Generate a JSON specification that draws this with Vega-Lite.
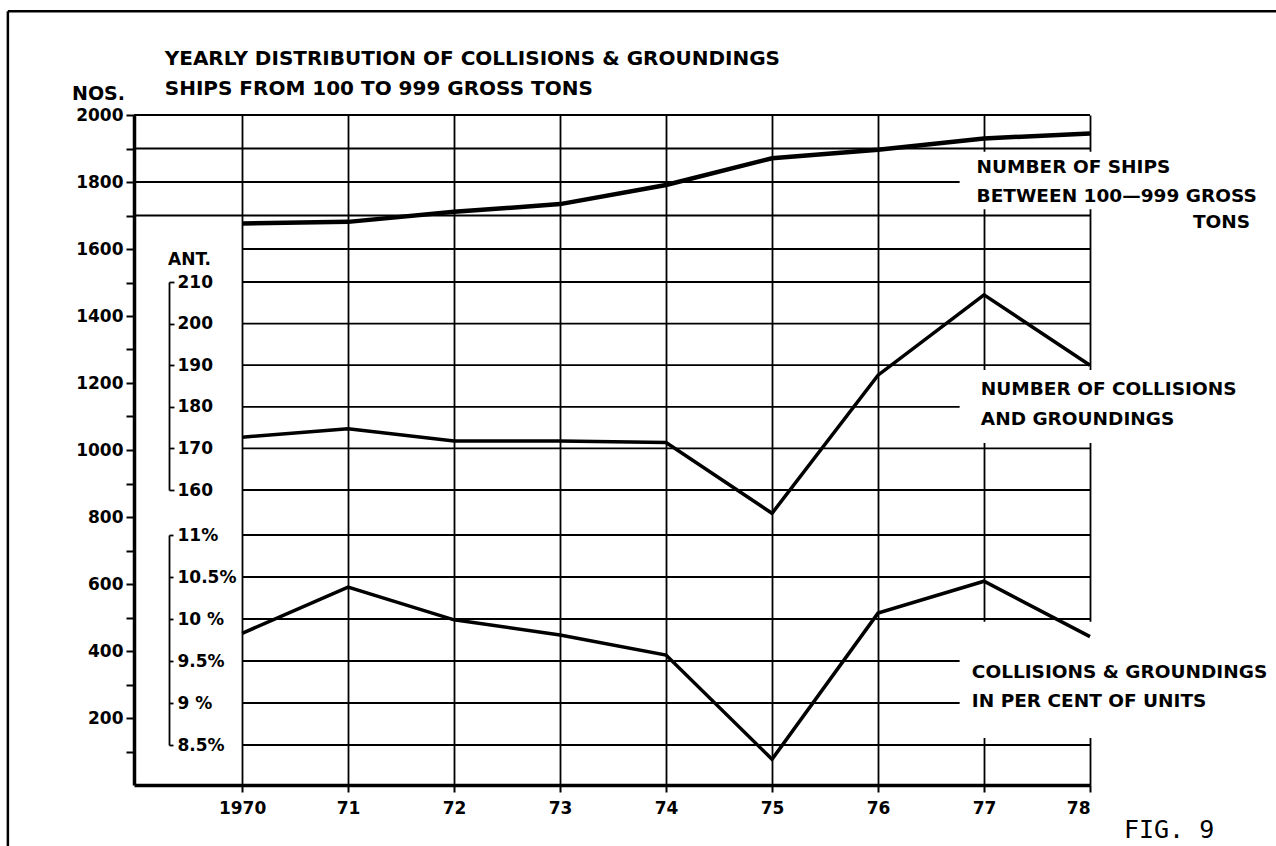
{
  "$schema": "https://vega.github.io/schema/vega-lite/v6.json",
  "width": 956,
  "height": 670,
  "autosize": {"type": "none"},
  "padding": {"left": 134, "top": 115, "right": 186, "bottom": 61},
  "background": "white",
  "config": {
    "view": {"stroke": null},
    "font": "DejaVu Sans",
    "axis": {"domainColor": "#000", "tickColor": "#000", "labelColor": "#000", "titleColor": "#000", "gridColor": "#000"}
  },
  "datasets": {
    "series": [
      {"year": 1970, "ships": 1676, "collisions": 172.7, "pct": 9.83},
      {"year": 1971, "ships": 1681, "collisions": 174.7, "pct": 10.38},
      {"year": 1972, "ships": 1711, "collisions": 171.8, "pct": 9.99},
      {"year": 1973, "ships": 1734, "collisions": 171.8, "pct": 9.81},
      {"year": 1974, "ships": 1791, "collisions": 171.4, "pct": 9.57},
      {"year": 1975, "ships": 1871, "collisions": 154.4, "pct": 8.33},
      {"year": 1976, "ships": 1896, "collisions": 187.6, "pct": 10.07},
      {"year": 1977, "ships": 1930, "collisions": 206.9, "pct": 10.45},
      {"year": 1978, "ships": 1945, "collisions": 190.0, "pct": 9.79}
    ],
    "nosGrid": [{"nos": 1600}, {"nos": 1700}, {"nos": 1800}, {"nos": 1900}, {"nos": 2000}],
    "antGrid": [{"ant": 160}, {"ant": 170}, {"ant": 180}, {"ant": 190}, {"ant": 200}, {"ant": 210}],
    "pctGrid": [{"pct": 8.5}, {"pct": 9}, {"pct": 9.5}, {"pct": 10}, {"pct": 10.5}, {"pct": 11}],
    "one": [{}]
  },
  "resolve": {"scale": {"x": "independent", "y": "independent"}, "axis": {"x": "independent", "y": "independent"}},
  "layer": [
    {
      "data": {"name": "nosGrid"},
      "transform": [{"filter": "datum.nos >= 1700"}],
      "mark": {"type": "rule", "color": "#000", "strokeWidth": 1.8},
      "encoding": {
        "x": {"datum": 1968.98, "type": "quantitative", "axis": null, "scale": {"domain": [1968.98, 1978], "nice": false, "zero": false}},
        "x2": {"datum": 1978},
        "y": {"field": "nos", "type": "quantitative", "axis": null, "scale": {"domain": [0, 2000], "nice": false, "zero": false}}
      }
    },
    {
      "data": {"name": "nosGrid"},
      "transform": [{"filter": "datum.nos < 1700"}],
      "mark": {"type": "rule", "color": "#000", "strokeWidth": 1.8},
      "encoding": {
        "x": {"datum": 1970, "type": "quantitative", "axis": null, "scale": {"domain": [1968.98, 1978], "nice": false, "zero": false}},
        "x2": {"datum": 1978},
        "y": {"field": "nos", "type": "quantitative", "axis": null, "scale": {"domain": [0, 2000], "nice": false, "zero": false}}
      }
    },
    {
      "data": {"name": "antGrid"},
      "mark": {"type": "rule", "color": "#000", "strokeWidth": 1.8},
      "encoding": {
        "x": {"datum": 1970, "type": "quantitative", "axis": null, "scale": {"domain": [1968.98, 1978], "nice": false, "zero": false}},
        "x2": {"datum": 1978},
        "y": {
          "field": "ant", "type": "quantitative",
          "scale": {"domain": [160, 210], "range": [375, 167], "nice": false, "zero": false},
          "axis": {
            "orient": "right", "offset": -921,
            "values": [160, 170, 180, 190, 200, 210],
            "tickSize": 5, "tickWidth": 1.8, "domainWidth": 1.8,
            "labelPadding": 3, "labelFontSize": 17, "labelFontWeight": "bold", "labelBaseline": "middle",
            "grid": false,
            "title": "ANT.", "titleAngle": 0, "titleAlign": "center", "titleBaseline": "middle",
            "titleX": 20, "titleY": 144, "titleFontSize": 17, "titleFontWeight": "bold"
          }
        }
      }
    },
    {
      "data": {"name": "pctGrid"},
      "mark": {"type": "rule", "color": "#000", "strokeWidth": 1.8},
      "encoding": {
        "x": {"datum": 1970, "type": "quantitative", "axis": null, "scale": {"domain": [1968.98, 1978], "nice": false, "zero": false}},
        "x2": {"datum": 1978},
        "y": {
          "field": "pct", "type": "quantitative",
          "scale": {"domain": [8.5, 11], "range": [630, 420], "nice": false, "zero": false},
          "axis": {
            "orient": "right", "offset": -921,
            "values": [8.5, 9, 9.5, 10, 10.5, 11],
            "labelExpr": "(datum.value == 9 || datum.value == 10) ? datum.value + ' %' : datum.value + '%'",
            "tickSize": 4, "tickWidth": 1.8, "domainWidth": 1.8,
            "labelPadding": 4, "labelFontSize": 17, "labelFontWeight": "bold", "labelBaseline": "middle",
            "grid": false, "title": null
          }
        }
      }
    },
    {
      "data": {"name": "one"},
      "mark": {"type": "rect", "fill": "white"},
      "encoding": {
        "x": {"datum": 1976.77, "type": "quantitative", "axis": null, "scale": {"domain": [1968.98, 1978], "nice": false, "zero": false}},
        "x2": {"datum": 1978.6},
        "y": {"datum": 1890, "type": "quantitative", "axis": null, "scale": {"domain": [0, 2000], "nice": false, "zero": false}},
        "y2": {"datum": 1719}
      }
    },
    {
      "data": {"name": "one"},
      "mark": {"type": "rect", "fill": "white"},
      "encoding": {
        "x": {"datum": 1976.77, "type": "quantitative", "axis": null, "scale": {"domain": [1968.98, 1978], "nice": false, "zero": false}},
        "x2": {"datum": 1978.6},
        "y": {"datum": 1239, "type": "quantitative", "axis": null, "scale": {"domain": [0, 2000], "nice": false, "zero": false}},
        "y2": {"datum": 1021}
      }
    },
    {
      "data": {"name": "one"},
      "mark": {"type": "rect", "fill": "white"},
      "encoding": {
        "x": {"datum": 1976.77, "type": "quantitative", "axis": null, "scale": {"domain": [1968.98, 1978], "nice": false, "zero": false}},
        "x2": {"datum": 1978.6},
        "y": {"datum": 487, "type": "quantitative", "axis": null, "scale": {"domain": [0, 2000], "nice": false, "zero": false}},
        "y2": {"datum": 140}
      }
    },
    {
      "data": {"name": "series"},
      "mark": {"type": "line", "color": "#000", "strokeWidth": 4.5},
      "encoding": {
        "x": {
          "field": "year", "type": "quantitative",
          "scale": {"domain": [1968.98, 1978], "nice": false, "zero": false},
          "axis": {
            "orient": "bottom",
            "values": [1970, 1971, 1972, 1973, 1974, 1975, 1976, 1977, 1978],
            "labelExpr": "datum.value == 1970 ? '1970' : format(datum.value - 1900, 'd')",
            "tickSize": 7, "tickWidth": 2, "domainWidth": 3.5,
            "labelPadding": 8, "labelFontSize": 17, "labelFontWeight": "bold",
            "grid": true, "gridWidth": 1.8, "gridColor": "#000", "title": null
          }
        },
        "y": {
          "field": "ships", "type": "quantitative",
          "scale": {"domain": [0, 2000], "nice": false, "zero": false},
          "axis": {
            "orient": "left",
            "values": [100, 200, 300, 400, 500, 600, 700, 800, 900, 1000, 1100, 1200, 1300, 1400, 1500, 1600, 1700, 1800, 1900, 2000],
            "labelExpr": "datum.value % 200 == 0 ? format(datum.value, 'd') : ''",
            "tickSize": 8, "tickWidth": 2, "domainWidth": 3.5,
            "labelPadding": 3, "labelFontSize": 17, "labelFontWeight": "bold", "labelBaseline": "middle",
            "grid": false,
            "title": "NOS.", "titleAngle": 0, "titleAlign": "center", "titleBaseline": "middle",
            "titleX": -36, "titleY": -22, "titleFontSize": 19, "titleFontWeight": "bold"
          }
        }
      }
    },
    {
      "data": {"name": "series"},
      "mark": {"type": "line", "color": "#000", "strokeWidth": 3.5},
      "encoding": {
        "x": {"field": "year", "type": "quantitative", "axis": null, "scale": {"domain": [1968.98, 1978], "nice": false, "zero": false}},
        "y": {"field": "collisions", "type": "quantitative", "axis": null, "scale": {"domain": [160, 210], "range": [375, 167], "nice": false, "zero": false}}
      }
    },
    {
      "data": {"name": "series"},
      "mark": {"type": "line", "color": "#000", "strokeWidth": 3.5},
      "encoding": {
        "x": {"field": "year", "type": "quantitative", "axis": null, "scale": {"domain": [1968.98, 1978], "nice": false, "zero": false}},
        "y": {"field": "pct", "type": "quantitative", "axis": null, "scale": {"domain": [8.5, 11], "range": [630, 420], "nice": false, "zero": false}}
      }
    },
    {
      "data": {"name": "one"},
      "mark": {"type": "rule", "color": "#000", "strokeWidth": 2.5},
      "encoding": {
        "x": {"datum": 1967.79, "type": "quantitative", "axis": null, "scale": {"domain": [1968.98, 1978], "nice": false, "zero": false}},
        "x2": {"datum": 1980},
        "y": {"datum": 2310, "type": "quantitative", "axis": null, "scale": {"domain": [0, 2000], "nice": false, "zero": false}}
      }
    },
    {
      "data": {"name": "one"},
      "mark": {"type": "rule", "color": "#000", "strokeWidth": 2.5},
      "encoding": {
        "x": {"datum": 1967.79, "type": "quantitative", "axis": null, "scale": {"domain": [1968.98, 1978], "nice": false, "zero": false}},
        "y": {"datum": 2310, "type": "quantitative", "axis": null, "scale": {"domain": [0, 2000], "nice": false, "zero": false}},
        "y2": {"datum": -200}
      }
    },
    {
      "data": {"name": "one"},
      "mark": {"type": "text", "align": "left", "baseline": "alphabetic", "font": "DejaVu Sans", "fontSize": 20, "fontWeight": "bold", "lineHeight": 30, "color": "#000"},
      "encoding": {
        "x": {"datum": 1969.27, "type": "quantitative", "axis": null, "scale": {"domain": [1968.98, 1978], "nice": false, "zero": false}},
        "y": {"datum": 2149, "type": "quantitative", "axis": null, "scale": {"domain": [0, 2000], "nice": false, "zero": false}},
        "text": {"value": ["YEARLY DISTRIBUTION OF COLLISIONS & GROUNDINGS", "SHIPS FROM 100 TO 999 GROSS TONS"]}
      }
    },
    {
      "data": {"name": "one"},
      "mark": {"type": "text", "align": "left", "baseline": "alphabetic", "font": "DejaVu Sans", "fontSize": 18.5, "fontWeight": "bold", "lineHeight": 29, "color": "#000"},
      "encoding": {
        "x": {"datum": 1976.93, "type": "quantitative", "axis": null, "scale": {"domain": [1968.98, 1978], "nice": false, "zero": false}},
        "y": {"datum": 1827, "type": "quantitative", "axis": null, "scale": {"domain": [0, 2000], "nice": false, "zero": false}},
        "text": {"value": ["NUMBER OF SHIPS", "BETWEEN 100—999 GROSS"]}
      }
    },
    {
      "data": {"name": "one"},
      "mark": {"type": "text", "align": "right", "baseline": "alphabetic", "font": "DejaVu Sans", "fontSize": 18.5, "fontWeight": "bold", "color": "#000"},
      "encoding": {
        "x": {"datum": 1979.51, "type": "quantitative", "axis": null, "scale": {"domain": [1968.98, 1978], "nice": false, "zero": false}},
        "y": {"datum": 1662, "type": "quantitative", "axis": null, "scale": {"domain": [0, 2000], "nice": false, "zero": false}},
        "text": {"value": "TONS"}
      }
    },
    {
      "data": {"name": "one"},
      "mark": {"type": "text", "align": "left", "baseline": "alphabetic", "font": "DejaVu Sans", "fontSize": 18.5, "fontWeight": "bold", "lineHeight": 30, "color": "#000"},
      "encoding": {
        "x": {"datum": 1976.97, "type": "quantitative", "axis": null, "scale": {"domain": [1968.98, 1978], "nice": false, "zero": false}},
        "y": {"datum": 1164, "type": "quantitative", "axis": null, "scale": {"domain": [0, 2000], "nice": false, "zero": false}},
        "text": {"value": ["NUMBER OF COLLISIONS", "AND GROUNDINGS"]}
      }
    },
    {
      "data": {"name": "one"},
      "mark": {"type": "text", "align": "left", "baseline": "alphabetic", "font": "DejaVu Sans", "fontSize": 18.5, "fontWeight": "bold", "lineHeight": 29, "color": "#000"},
      "encoding": {
        "x": {"datum": 1976.885, "type": "quantitative", "axis": null, "scale": {"domain": [1968.98, 1978], "nice": false, "zero": false}},
        "y": {"datum": 319, "type": "quantitative", "axis": null, "scale": {"domain": [0, 2000], "nice": false, "zero": false}},
        "text": {"value": ["COLLISIONS & GROUNDINGS", "IN PER CENT OF UNITS"]}
      }
    },
    {
      "data": {"name": "one"},
      "mark": {"type": "text", "align": "left", "baseline": "alphabetic", "font": "DejaVu Sans Mono", "fontSize": 25, "color": "#000"},
      "encoding": {
        "x": {"datum": 1978.32, "type": "quantitative", "axis": null, "scale": {"domain": [1968.98, 1978], "nice": false, "zero": false}},
        "y": {"datum": -158, "type": "quantitative", "axis": null, "scale": {"domain": [0, 2000], "nice": false, "zero": false}},
        "text": {"value": "FIG. 9"}
      }
    }
  ]
}
